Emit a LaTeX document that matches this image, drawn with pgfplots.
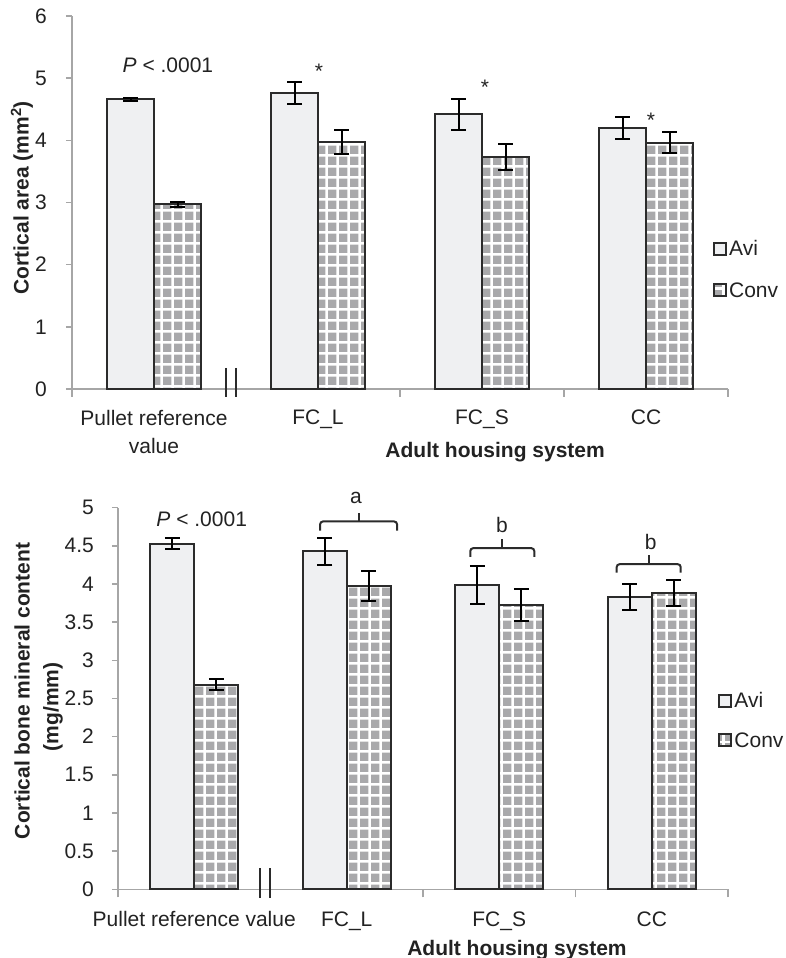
\documentclass[border=0pt]{standalone}
\usepackage{fontspec}
\setmainfont{Liberation Sans}
\usepackage{pgfplots}
\pgfplotsset{compat=1.18}
\usetikzlibrary{patterns.meta}
\definecolor{axisgray}{HTML}{A6A6A6}
\definecolor{barline}{HTML}{2B2B2B}
\definecolor{avifill}{HTML}{EFF0F2}
\definecolor{sqgray}{HTML}{A9A9AB}
\definecolor{textgray}{HTML}{222222}
\tikzdeclarepattern{name=sqgrid, type=uncolored,
  bounding box={(0pt,0pt) and (10.8pt,10.8pt)},
  tile size={(10.8pt,10.8pt)},
  code={\fill (1.2pt,1.2pt) rectangle (9.6pt,9.6pt);}}
\newcommand\fs{\fontsize{21}{25}\selectfont}
\pgfplotsset{
  mylegend/.style={legend image code/.code={\draw[##1, line width=2pt] (0pt,-6pt) rectangle (12pt,6pt);}},
  mystyle/.style={
    scale only axis, ybar=0pt, xmin=-0.5, xmax=3.5, ymin=0,
    axis lines*=left, axis line style={draw=axisgray, line width=1.5pt},
    tick align=outside, major tick length=6pt, minor tick length=8pt,
    xtick={0,1,2,3}, minor xtick={-0.5,0.5,1.5,2.5,3.5},
    xtick style={draw=axisgray, line width=1.5pt},
    ytick style={draw=axisgray, line width=1.5pt},
    major x tick style={draw=none},
    tick label style={font=\fs, text=textgray},
    yticklabel style={anchor=east, inner sep=0pt},
    xticklabel style={align=center, anchor=north, inner sep=0pt, font=\fontsize{21}{28}\selectfont},
    /pgf/number format/assume math mode=true,
    clip=false,
    every axis plot post/.append style={mylegend},
    legend style={draw=none, fill=none, font=\fs, text=textgray, anchor=west, legend cell align=left, inner sep=0pt},
    xlabel style={font=\bfseries\fs, text=textgray, anchor=center},
    ylabel style={font=\bfseries\fs, text=textgray, anchor=center},
  },
  avi/.style={draw=barline, line width=2pt, fill=avifill,
    error bars/.cd, y dir=both, y explicit,
    error bar style={line width=2pt, draw=black},
    error mark options={rotate=90, mark size=7.5pt, line width=2pt, draw=black}},
  conv/.style={draw=barline, line width=2pt, pattern=sqgrid, pattern color=sqgray,
    error bars/.cd, y dir=both, y explicit,
    error bar style={line width=2pt, draw=black},
    error mark options={rotate=90, mark size=7.5pt, line width=2pt, draw=black}},
}
\begin{document}
\begin{tikzpicture}
\path[use as bounding box] (0pt,0pt) rectangle (786pt,958pt);
% ---------- top chart ----------
\begin{axis}[mystyle,
  at={(72pt,569pt)}, anchor=south west,
  width=656pt, height=373pt, bar width=47pt,
  ymax=6, ytick={0,1,2,3,4,5,6},
  xticklabels={{Pullet reference\\value},FC\_L,FC\_S,CC},
  xticklabel style={yshift=-15pt},
  yticklabel style={xshift=-19pt},
  xlabel={Adult housing system},
  xlabel style={at={(axis description cs:0.645,-0.169)}},
  ylabel={Cortical area (mm\textsuperscript{2})},
  ylabel style={at={(axis description cs:-0.0762,0.513)}},
  legend style={at={(rel axis cs:0.977,0.32)}, row sep=21pt},
]
\addplot[avi] coordinates {(0,4.66) +- (0,0.027) (1,4.76) +- (0,0.18) (2,4.42) +- (0,0.25) (3,4.20) +- (0,0.175)};
\addplot[conv] coordinates {(0,2.97) +- (0,0.04) (1,3.97) +- (0,0.19) (2,3.73) +- (0,0.21) (3,3.96) +- (0,0.17)};
\legend{Avi,Conv}
\node[anchor=base, font=\fs, text=textgray] at (axis cs:0.085,5.09) {\textit{P} < .0001};
\node[anchor=base, font=\fs, text=textgray] at (axis cs:1.006,5.00) {*};
\node[anchor=base, font=\fs, text=textgray] at (axis cs:2.018,4.73) {*};
\node[anchor=base, font=\fs, text=textgray] at (axis cs:3.03,4.21) {*};
\draw[barline, line width=2.2pt] (axis cs:0.439,0.338) -- (axis cs:0.439,-0.129);
\draw[barline, line width=2.2pt] (axis cs:0.5,0.338) -- (axis cs:0.5,-0.129);
\end{axis}
% ---------- bottom chart ----------
\begin{axis}[mystyle,
  at={(118pt,68.7pt)}, anchor=south west,
  width=610pt, height=381.6pt, bar width=44pt,
  ymax=5, ytick={0,0.5,1,1.5,2,2.5,3,3.5,4,4.5,5},
  yticklabel={\pgfmathprintnumber[fixed,precision=1]{\tick}},
  xticklabels={Pullet reference value,FC\_L,FC\_S,CC},
  xticklabel style={yshift=-16pt},
  yticklabel style={xshift=-18pt},
  xlabel={Adult housing system},
  xlabel style={at={(axis description cs:0.654,-0.159)}},
  ylabel={Cortical bone mineral content},
  ylabel style={at={(axis description cs:-0.157,0.52)}},
  legend style={at={(rel axis cs:0.984,0.442)}, row sep=19pt},
]
\addplot[avi] coordinates {(0,4.53) +- (0,0.07) (1,4.43) +- (0,0.175) (2,3.99) +- (0,0.25) (3,3.83) +- (0,0.17)};
\addplot[conv] coordinates {(0,2.68) +- (0,0.075) (1,3.97) +- (0,0.195) (2,3.72) +- (0,0.21) (3,3.88) +- (0,0.17)};
\legend{Avi,Conv}
\node[rotate=90, anchor=center, font=\bfseries\fs, text=textgray] at (axis description cs:-0.1066,0.478) {(mg/mm)};
\node[anchor=base, font=\fs, text=textgray] at (axis cs:0.049,4.76) {\textit{P} < .0001};
\node[anchor=base, font=\fs, text=textgray] at (axis cs:1.06,5.06) {a};
\node[anchor=base, font=\fs, text=textgray] at (axis cs:2.018,4.67) {b};
\node[anchor=base, font=\fs, text=textgray] at (axis cs:2.993,4.456) {b};
\draw[barline, line width=2pt, rounded corners=3pt] (axis cs:0.825,4.70) -- (axis cs:0.825,4.82) -- (axis cs:1.33,4.82) -- (axis cs:1.33,4.70);
\draw[barline, line width=2pt] (axis cs:1.08,4.82) -- (axis cs:1.08,4.93);
\draw[barline, line width=2pt, rounded corners=3pt] (axis cs:1.81,4.355) -- (axis cs:1.81,4.47) -- (axis cs:2.23,4.47) -- (axis cs:2.23,4.355);
\draw[barline, line width=2pt] (axis cs:2.02,4.47) -- (axis cs:2.02,4.59);
\draw[barline, line width=2pt, rounded corners=3pt] (axis cs:2.77,4.15) -- (axis cs:2.77,4.26) -- (axis cs:3.19,4.26) -- (axis cs:3.19,4.15);
\draw[barline, line width=2pt] (axis cs:2.98,4.26) -- (axis cs:2.98,4.38);
\draw[barline, line width=2.2pt] (axis cs:0.431,0.279) -- (axis cs:0.431,-0.114);
\draw[barline, line width=2.2pt] (axis cs:0.497,0.279) -- (axis cs:0.497,-0.114);
\end{axis}
\end{tikzpicture}
\end{document}
